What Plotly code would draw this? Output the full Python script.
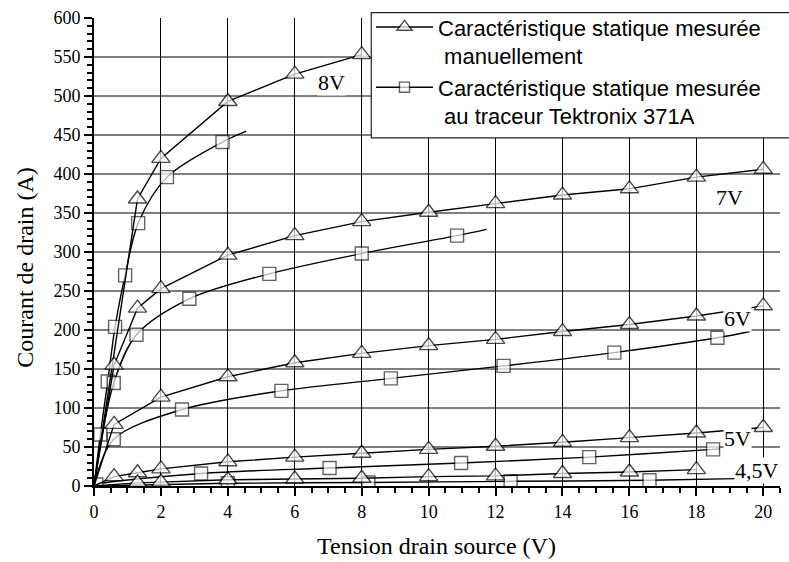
import plotly.graph_objects as go

# ---------------- data ----------------
# manual measurements (triangles)
man_x_8 = [0, 1.3, 2, 4, 6, 8]
man_y_8 = [0, 368, 420, 493, 528, 553]
man_x_7 = [0, 0.6, 1.3, 2, 4, 6, 8, 10, 12, 14, 16, 18, 20]
man_y_7 = [0, 155, 228, 253, 296, 321, 339, 351, 362, 373, 381, 396, 406]
man_x_6 = [0, 0.6, 2, 4, 6, 8, 10, 12, 14, 16, 18, 20]
man_y_6 = [0, 79, 114, 140, 158, 170, 180, 188, 198, 207, 218, 231]
man_x_5 = [0, 0.6, 1.3, 2, 4, 6, 8, 10, 12, 14, 16, 18, 20]
man_y_5 = [0, 12, 17, 22, 31, 37, 42, 47, 51, 56, 62, 68, 75]
man_x_45 = [0, 1.3, 2, 4, 6, 8, 10, 12, 14, 16, 18]
man_y_45 = [0, 4, 5, 8, 9, 10, 12, 13, 16, 18, 21]

# Tektronix 371A tracer (squares) + curve end points
tek_x_8 = [0.19, 0.41, 0.63, 0.93, 1.32, 2.18, 3.84]
tek_y_8 = [66, 134, 204, 270, 337, 396, 441]
tek_x_7 = [0.59, 1.27, 2.85, 5.24, 8.0, 10.85]
tek_y_7 = [132, 194, 240, 272, 298, 321]
tek_x_6 = [0.59, 2.63, 5.6, 8.87, 12.24, 15.55, 18.63]
tek_y_6 = [60, 98, 122, 138, 154, 171, 190]
tek_x_5 = [0.07, 3.2, 7.04, 10.97, 14.8, 18.5]
tek_y_5 = [2, 16, 23, 29.5, 37, 47]
tek_x_45 = [4.0, 8.2, 12.45, 16.6]
tek_y_45 = [3.5, 4.5, 6, 7.3]
tek_end_x = [4.55, 11.73, 19.6, 18.7, 19.2]
tek_end_y = [455, 329, 198, 47.5, 9.5]

curve_labels = ["8V", "7V", "6V", "5V", "4,5V"]
label_x = [7.09, 19.0, 19.22, 19.22, 19.82]
label_y = [517, 370, 215, 61, 20]

legend_names = ["Caractéristique statique mesurée<br>\u00a0manuellement",
                "Caractéristique statique mesurée<br>\u00a0au traceur Tektronix 371A"]

x_ticks = list(range(0, 21, 2))
y_ticks = list(range(0, 601, 50))
y_grid = list(range(50, 551, 50))

# ---------------- figure ----------------
fig = go.Figure()

manual = [(man_x_8, man_y_8), (man_x_7, man_y_7), (man_x_6, man_y_6),
          (man_x_5, man_y_5), (man_x_45, man_y_45)]
tek = [(tek_x_8, tek_y_8), (tek_x_7, tek_y_7), (tek_x_6, tek_y_6),
       (tek_x_5, tek_y_5), (tek_x_45, tek_y_45)]

LW = 1.4
for i, (xs, ys) in enumerate(tek):
    lx = [0] + xs + [tek_end_x[i]]
    ly = [0] + ys + [tek_end_y[i]]
    sizes = [0] + [13] * len(xs) + [0]
    fig.add_trace(go.Scatter(
        x=lx, y=ly, mode="lines+markers",
        line=dict(color="black", width=LW, shape="spline", smoothing=0.9),
        marker=dict(symbol="square", size=sizes, color="white",
                    line=dict(color="#222", width=1.4)),
        name=legend_names[1], showlegend=(i == 0), legendrank=2))

for i, (xs, ys) in enumerate(manual):
    sizes = [0] + [16] * (len(xs) - 1)
    fig.add_trace(go.Scatter(
        x=xs, y=ys, mode="lines+markers",
        line=dict(color="black", width=LW),
        marker=dict(symbol="triangle-up", size=sizes, color="white",
                    line=dict(color="black", width=1.4)),
        name=legend_names[0], showlegend=(i == 0), legendrank=1))

# curve labels
for t, x, y in zip(curve_labels, label_x, label_y):
    fig.add_annotation(x=x, y=y, text=t, showarrow=False, bgcolor="white",
                       font=dict(family="Liberation Serif", size=22, color="black"),
                       xanchor="center", yanchor="middle", borderpad=0)

# horizontal grid lines
shapes = [dict(type="line", xref="paper", x0=0, x1=1, yref="y", y0=g, y1=g,
               line=dict(color="black", width=1), layer="below") for g in y_grid]
# legend box
shapes.append(dict(type="rect", xref="paper", yref="paper",
                   x0=0.4042, x1=1.03, y0=0.7439, y1=1.0113,
                   fillcolor="white", line=dict(color="#222", width=1.2), layer="above"))

fig.update_layout(
    width=789, height=562,
    margin=dict(l=93.7, r=9.2, t=18.3, b=76.3, autoexpand=False),
    paper_bgcolor="white", plot_bgcolor="white",
    shapes=shapes,
    legend=dict(xref="container", yref="container", x=0.4702, y=0.989,
                xanchor="left", yanchor="top",
                bgcolor="rgba(0,0,0,0)", borderwidth=0,
                font=dict(family="Liberation Sans", size=22, color="black"),
                itemwidth=57, valign="top", tracegroupgap=0,
                traceorder="normal"),
    annotations=list(fig.layout.annotations) + [
        dict(text="Tension drain source (V)", xref="paper", yref="paper",
             x=0.499, y=-0.129, showarrow=False, xanchor="center", yanchor="middle",
             font=dict(family="Liberation Serif", size=24, color="black")),
        dict(text="Courant de drain (A)", xref="paper", yref="paper",
             x=-0.1001, y=0.467, showarrow=False, textangle=-90,
             xanchor="center", yanchor="middle",
             font=dict(family="Liberation Serif", size=24, color="black")),
    ],
)

fig.update_xaxes(range=[0, 20.5], tickvals=x_ticks, showgrid=True, gridcolor="black",
                 gridwidth=1, zeroline=False, showline=True, linecolor="black", linewidth=2,
                 automargin=False,
                 ticks="outside", ticklen=8, tickwidth=1.5, tickcolor="black",
                 minor=dict(dtick=0.5, ticks="outside", ticklen=5, tickwidth=1.5,
                            tickcolor="black", showgrid=False),
                 tickfont=dict(family="Liberation Serif", size=18, color="black"))
fig.update_yaxes(range=[0, 600], tickvals=y_ticks, showgrid=False,
                 zeroline=False, showline=True, linecolor="black", linewidth=2,
                 automargin=False,
                 ticks="outside", ticklen=8, tickwidth=1.5, tickcolor="black",
                 minor=dict(dtick=10, ticks="outside", ticklen=5, tickwidth=1.5,
                            tickcolor="black", showgrid=False),
                 tickfont=dict(family="Liberation Serif", size=18, color="black"))

fig.write_html("out.html", config={"displayModeBar": False},
               post_script="document.body.style.margin='0';document.body.style.overflow='hidden';")
